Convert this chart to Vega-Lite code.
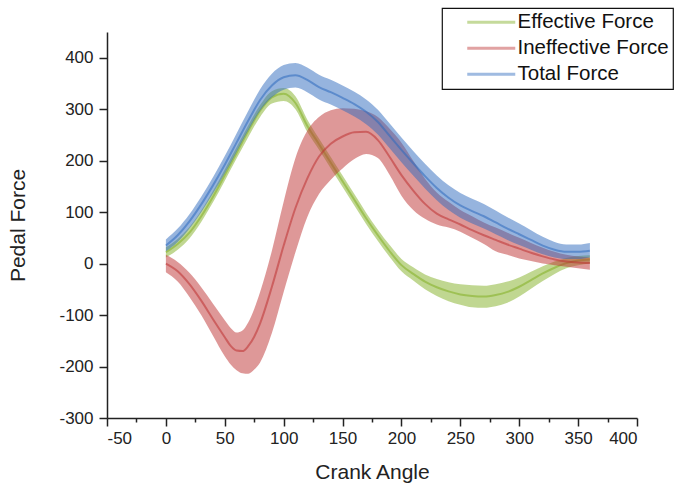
{
  "$schema": "https://vega.github.io/schema/vega-lite/v6.json",
  "width": 530,
  "height": 386,
  "autosize": {"type": "none"},
  "padding": {"left": 107, "top": 32, "right": 48, "bottom": 65},
  "background": "white",
  "config": {
    "view": {"stroke": null},
    "font": "Liberation Sans",
    "legend": {"strokeColor": "#111111", "strokeWidth": 1.2},
    "axis": {
      "domainColor": "#222222",
      "domainWidth": 1.5,
      "tickColor": "#222222",
      "tickWidth": 1.5,
      "grid": false,
      "labelColor": "#222222",
      "labelFont": "Liberation Sans",
      "labelFontSize": 17,
      "titleColor": "#222222",
      "titleFont": "Liberation Sans",
      "titleFontSize": 21,
      "titleFontWeight": "normal"
    }
  },
  "data": {
    "values": [
      {"angle": 0, "series": "Effective Force", "mean": 22, "lo": 12, "hi": 32},
      {"angle": 10, "series": "Effective Force", "mean": 38, "lo": 27, "hi": 48},
      {"angle": 20, "series": "Effective Force", "mean": 60, "lo": 49, "hi": 71},
      {"angle": 30, "series": "Effective Force", "mean": 92, "lo": 81, "hi": 103},
      {"angle": 40, "series": "Effective Force", "mean": 130, "lo": 119, "hi": 141},
      {"angle": 50, "series": "Effective Force", "mean": 172, "lo": 161, "hi": 183},
      {"angle": 60, "series": "Effective Force", "mean": 215, "lo": 204, "hi": 226},
      {"angle": 70, "series": "Effective Force", "mean": 258, "lo": 246, "hi": 269},
      {"angle": 80, "series": "Effective Force", "mean": 297, "lo": 285, "hi": 308},
      {"angle": 90, "series": "Effective Force", "mean": 323, "lo": 311, "hi": 335},
      {"angle": 100, "series": "Effective Force", "mean": 330, "lo": 316, "hi": 341},
      {"angle": 110, "series": "Effective Force", "mean": 312, "lo": 300, "hi": 325},
      {"angle": 120, "series": "Effective Force", "mean": 268, "lo": 256, "hi": 280},
      {"angle": 130, "series": "Effective Force", "mean": 232, "lo": 221, "hi": 243},
      {"angle": 140, "series": "Effective Force", "mean": 196, "lo": 185, "hi": 207},
      {"angle": 150, "series": "Effective Force", "mean": 160, "lo": 149, "hi": 171},
      {"angle": 160, "series": "Effective Force", "mean": 124, "lo": 113, "hi": 135},
      {"angle": 170, "series": "Effective Force", "mean": 88, "lo": 77, "hi": 99},
      {"angle": 180, "series": "Effective Force", "mean": 55, "lo": 44, "hi": 66},
      {"angle": 190, "series": "Effective Force", "mean": 24, "lo": 13, "hi": 36},
      {"angle": 200, "series": "Effective Force", "mean": -3, "lo": -15, "hi": 9},
      {"angle": 210, "series": "Effective Force", "mean": -20, "lo": -33, "hi": -7},
      {"angle": 220, "series": "Effective Force", "mean": -35, "lo": -50, "hi": -21},
      {"angle": 230, "series": "Effective Force", "mean": -46, "lo": -63, "hi": -30},
      {"angle": 240, "series": "Effective Force", "mean": -54, "lo": -73, "hi": -36},
      {"angle": 250, "series": "Effective Force", "mean": -60, "lo": -80, "hi": -40},
      {"angle": 260, "series": "Effective Force", "mean": -63, "lo": -85, "hi": -42},
      {"angle": 270, "series": "Effective Force", "mean": -64, "lo": -86, "hi": -43},
      {"angle": 280, "series": "Effective Force", "mean": -61, "lo": -83, "hi": -40},
      {"angle": 290, "series": "Effective Force", "mean": -55, "lo": -76, "hi": -35},
      {"angle": 300, "series": "Effective Force", "mean": -45, "lo": -64, "hi": -27},
      {"angle": 310, "series": "Effective Force", "mean": -32, "lo": -49, "hi": -16},
      {"angle": 320, "series": "Effective Force", "mean": -19, "lo": -34, "hi": -5},
      {"angle": 330, "series": "Effective Force", "mean": -8, "lo": -20, "hi": 4},
      {"angle": 340, "series": "Effective Force", "mean": 1, "lo": -9, "hi": 11},
      {"angle": 350, "series": "Effective Force", "mean": 6, "lo": -3, "hi": 15},
      {"angle": 360, "series": "Effective Force", "mean": 8, "lo": 0, "hi": 16},

      {"angle": 0, "series": "Ineffective Force", "mean": 0, "lo": -17, "hi": 17},
      {"angle": 10, "series": "Ineffective Force", "mean": -15, "lo": -35, "hi": 3},
      {"angle": 20, "series": "Ineffective Force", "mean": -40, "lo": -65, "hi": -18},
      {"angle": 30, "series": "Ineffective Force", "mean": -72, "lo": -100, "hi": -46},
      {"angle": 40, "series": "Ineffective Force", "mean": -108, "lo": -140, "hi": -78},
      {"angle": 50, "series": "Ineffective Force", "mean": -143, "lo": -180, "hi": -110},
      {"angle": 55, "series": "Ineffective Force", "mean": -160, "lo": -196, "hi": -125},
      {"angle": 60, "series": "Ineffective Force", "mean": -169, "lo": -207, "hi": -134},
      {"angle": 65, "series": "Ineffective Force", "mean": -170, "lo": -213, "hi": -130},
      {"angle": 70, "series": "Ineffective Force", "mean": -160, "lo": -214, "hi": -114},
      {"angle": 75, "series": "Ineffective Force", "mean": -142, "lo": -206, "hi": -88},
      {"angle": 80, "series": "Ineffective Force", "mean": -116, "lo": -192, "hi": -55},
      {"angle": 90, "series": "Ineffective Force", "mean": -45, "lo": -135, "hi": 25},
      {"angle": 100, "series": "Ineffective Force", "mean": 35, "lo": -55, "hi": 120},
      {"angle": 110, "series": "Ineffective Force", "mean": 108, "lo": 22, "hi": 205},
      {"angle": 120, "series": "Ineffective Force", "mean": 165, "lo": 90, "hi": 258},
      {"angle": 130, "series": "Ineffective Force", "mean": 208, "lo": 135, "hi": 285},
      {"angle": 140, "series": "Ineffective Force", "mean": 233, "lo": 163, "hi": 298},
      {"angle": 150, "series": "Ineffective Force", "mean": 247, "lo": 185, "hi": 302},
      {"angle": 160, "series": "Ineffective Force", "mean": 255, "lo": 203, "hi": 301},
      {"angle": 170, "series": "Ineffective Force", "mean": 256, "lo": 213, "hi": 296},
      {"angle": 180, "series": "Ineffective Force", "mean": 240, "lo": 205, "hi": 285},
      {"angle": 190, "series": "Ineffective Force", "mean": 207, "lo": 172, "hi": 262},
      {"angle": 200, "series": "Ineffective Force", "mean": 172, "lo": 132, "hi": 235},
      {"angle": 210, "series": "Ineffective Force", "mean": 142, "lo": 104, "hi": 200},
      {"angle": 220, "series": "Ineffective Force", "mean": 116, "lo": 87, "hi": 165},
      {"angle": 230, "series": "Ineffective Force", "mean": 97, "lo": 76, "hi": 138},
      {"angle": 240, "series": "Ineffective Force", "mean": 86, "lo": 70, "hi": 120},
      {"angle": 250, "series": "Ineffective Force", "mean": 76, "lo": 62, "hi": 104},
      {"angle": 260, "series": "Ineffective Force", "mean": 65, "lo": 50, "hi": 92},
      {"angle": 270, "series": "Ineffective Force", "mean": 55, "lo": 38, "hi": 80},
      {"angle": 280, "series": "Ineffective Force", "mean": 46, "lo": 24, "hi": 70},
      {"angle": 290, "series": "Ineffective Force", "mean": 37, "lo": 17, "hi": 60},
      {"angle": 300, "series": "Ineffective Force", "mean": 29, "lo": 10, "hi": 50},
      {"angle": 310, "series": "Ineffective Force", "mean": 21, "lo": 5, "hi": 40},
      {"angle": 320, "series": "Ineffective Force", "mean": 14, "lo": 0, "hi": 31},
      {"angle": 330, "series": "Ineffective Force", "mean": 8, "lo": -3, "hi": 23},
      {"angle": 340, "series": "Ineffective Force", "mean": 4, "lo": -6, "hi": 17},
      {"angle": 350, "series": "Ineffective Force", "mean": 2, "lo": -9, "hi": 14},
      {"angle": 360, "series": "Ineffective Force", "mean": 1, "lo": -12, "hi": 12},

      {"angle": 0, "series": "Total Force", "mean": 35, "lo": 24, "hi": 47},
      {"angle": 10, "series": "Total Force", "mean": 55, "lo": 42, "hi": 68},
      {"angle": 20, "series": "Total Force", "mean": 82, "lo": 68, "hi": 96},
      {"angle": 30, "series": "Total Force", "mean": 115, "lo": 100, "hi": 130},
      {"angle": 40, "series": "Total Force", "mean": 152, "lo": 136, "hi": 168},
      {"angle": 50, "series": "Total Force", "mean": 192, "lo": 175, "hi": 209},
      {"angle": 60, "series": "Total Force", "mean": 235, "lo": 217, "hi": 253},
      {"angle": 70, "series": "Total Force", "mean": 278, "lo": 259, "hi": 297},
      {"angle": 80, "series": "Total Force", "mean": 318, "lo": 297, "hi": 339},
      {"angle": 90, "series": "Total Force", "mean": 346, "lo": 323, "hi": 369},
      {"angle": 100, "series": "Total Force", "mean": 362, "lo": 338, "hi": 386},
      {"angle": 110, "series": "Total Force", "mean": 366, "lo": 342, "hi": 390},
      {"angle": 120, "series": "Total Force", "mean": 357, "lo": 333, "hi": 381},
      {"angle": 130, "series": "Total Force", "mean": 343, "lo": 319, "hi": 367},
      {"angle": 140, "series": "Total Force", "mean": 333, "lo": 309, "hi": 357},
      {"angle": 150, "series": "Total Force", "mean": 322, "lo": 298, "hi": 346},
      {"angle": 160, "series": "Total Force", "mean": 310, "lo": 286, "hi": 334},
      {"angle": 170, "series": "Total Force", "mean": 295, "lo": 271, "hi": 319},
      {"angle": 180, "series": "Total Force", "mean": 275, "lo": 251, "hi": 299},
      {"angle": 190, "series": "Total Force", "mean": 248, "lo": 224, "hi": 272},
      {"angle": 200, "series": "Total Force", "mean": 221, "lo": 197, "hi": 245},
      {"angle": 210, "series": "Total Force", "mean": 195, "lo": 171, "hi": 219},
      {"angle": 220, "series": "Total Force", "mean": 170, "lo": 146, "hi": 194},
      {"angle": 230, "series": "Total Force", "mean": 147, "lo": 123, "hi": 171},
      {"angle": 240, "series": "Total Force", "mean": 128, "lo": 104, "hi": 152},
      {"angle": 250, "series": "Total Force", "mean": 113, "lo": 89, "hi": 137},
      {"angle": 260, "series": "Total Force", "mean": 102, "lo": 78, "hi": 126},
      {"angle": 270, "series": "Total Force", "mean": 92, "lo": 68, "hi": 116},
      {"angle": 280, "series": "Total Force", "mean": 80, "lo": 57, "hi": 103},
      {"angle": 290, "series": "Total Force", "mean": 68, "lo": 46, "hi": 90},
      {"angle": 300, "series": "Total Force", "mean": 57, "lo": 36, "hi": 78},
      {"angle": 310, "series": "Total Force", "mean": 46, "lo": 27, "hi": 65},
      {"angle": 320, "series": "Total Force", "mean": 35, "lo": 18, "hi": 52},
      {"angle": 330, "series": "Total Force", "mean": 27, "lo": 12, "hi": 42},
      {"angle": 340, "series": "Total Force", "mean": 23, "lo": 9, "hi": 37},
      {"angle": 350, "series": "Total Force", "mean": 23, "lo": 9, "hi": 37},
      {"angle": 360, "series": "Total Force", "mean": 25, "lo": 12, "hi": 40}
    ]
  },
  "encoding": {
    "x": {
      "field": "angle",
      "type": "quantitative",
      "scale": {"domain": [-50, 400], "nice": false, "zero": false},
      "axis": {
        "values": [-50, -25, 0, 25, 50, 75, 100, 125, 150, 175, 200, 225, 250, 275, 300, 325, 350, 375, 400],
        "labelExpr": "datum.value % 50 === 0 ? '' + datum.value : ''",
        "tickSize": {"condition": {"test": "datum.value % 50 === 0", "value": 8}, "value": 4},
        "labelPadding": 4,
        "title": "Crank Angle",
        "titlePadding": 15
      }
    },
    "color": {
      "field": "series",
      "type": "nominal",
      "scale": {
        "domain": ["Effective Force", "Ineffective Force", "Total Force"],
        "range": ["#81AF23", "#BE3232", "#2D69BD"]
      },
      "legend": {
        "title": null,
        "orient": "none",
        "legendX": 335,
        "legendY": -24,
        "fillColor": "white",
        "strokeColor": "#111111",
        "padding": 4,
        "symbolType": "M1.375,0H7.375",
        "symbolSize": 256,
        "symbolStrokeWidth": 3,
        "symbolOpacity": 0.45,
        "labelFont": "Liberation Sans",
        "labelFontSize": 20.5,
        "labelColor": "#111111",
        "labelOffset": 51,
        "rowPadding": 5
      }
    }
  },
  "layer": [
    {
      "transform": [{"filter": "datum.series === 'Effective Force'"}],
      "layer": [
        {
          "mark": {"type": "area", "interpolate": "monotone", "opacity": 0.5},
          "encoding": {
            "y": {
              "field": "lo",
              "type": "quantitative",
              "scale": {"domain": [-300, 450], "nice": false, "zero": false},
              "axis": {
                "values": [-300, -250, -200, -150, -100, -50, 0, 50, 100, 150, 200, 250, 300, 350, 400, 450],
                "labelExpr": "datum.value % 100 === 0 ? '' + datum.value : ''",
                "tickSize": {"condition": {"test": "datum.value % 100 === 0", "value": 8}, "value": 4},
                "labelPadding": 6,
                "title": "Pedal Force",
                "titlePadding": 30
              }
            },
            "y2": {"field": "hi"}
          }
        },
        {
          "mark": {"type": "line", "interpolate": "monotone", "opacity": 0.55, "strokeWidth": 2},
          "encoding": {"y": {"field": "mean", "type": "quantitative"}}
        }
      ]
    },
    {
      "transform": [{"filter": "datum.series === 'Ineffective Force'"}],
      "layer": [
        {
          "mark": {"type": "area", "interpolate": "monotone", "opacity": 0.5},
          "encoding": {"y": {"field": "lo", "type": "quantitative"}, "y2": {"field": "hi"}}
        },
        {
          "mark": {"type": "line", "interpolate": "monotone", "opacity": 0.55, "strokeWidth": 2},
          "encoding": {"y": {"field": "mean", "type": "quantitative"}}
        }
      ]
    },
    {
      "transform": [{"filter": "datum.series === 'Total Force'"}],
      "layer": [
        {
          "mark": {"type": "area", "interpolate": "monotone", "opacity": 0.5},
          "encoding": {"y": {"field": "lo", "type": "quantitative"}, "y2": {"field": "hi"}}
        },
        {
          "mark": {"type": "line", "interpolate": "monotone", "opacity": 0.55, "strokeWidth": 2},
          "encoding": {"y": {"field": "mean", "type": "quantitative"}}
        }
      ]
    }
  ]
}
